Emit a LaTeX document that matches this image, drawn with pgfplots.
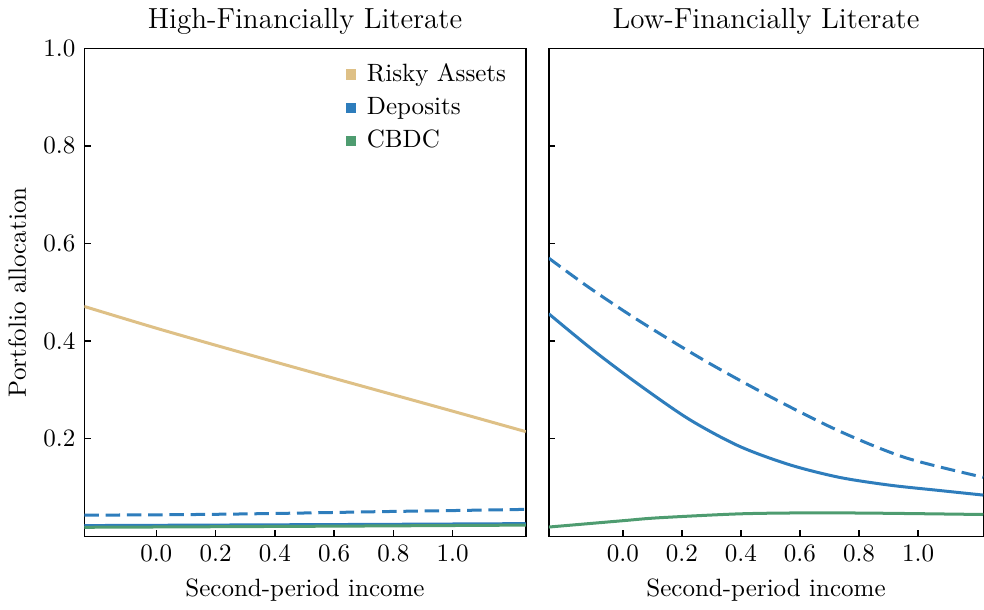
\documentclass[border=0pt]{standalone}
\usepackage{pgfplots}
\pgfplotsset{compat=1.18}

\definecolor{risky}{RGB}{222,192,134}
\definecolor{dep}{RGB}{46,125,188}
\definecolor{cbdc}{RGB}{78,156,112}

\pgfplotsset{
  panel/.style={
    scale only axis,
    height=195pt,
    ymin=0, ymax=1,
    ytick={0.2,0.4,0.6,0.8,1.0},
    xtick={0,0.2,0.4,0.6,0.8,1.0},
    tick align=inside,
    xtick pos=bottom, ytick pos=left,
    major tick length=2.6pt,
    every tick/.style={black, line width=0.6pt},
    axis line style={line width=0.6pt},
    xticklabel style={/pgf/number format/.cd, fixed, fixed zerofill, precision=1},
    yticklabel style={/pgf/number format/.cd, fixed, fixed zerofill, precision=1},
    xlabel={Second-period income},
    title style={yshift=-4pt, font=\fontsize{11.6}{14}\selectfont},
  },
  line/.style={line width=1.2pt, no markers, smooth},
  dsh/.style={line width=1.2pt, no markers, smooth, dash pattern=on 5.8pt off 2.7pt},
}

\begin{document}
\begin{tikzpicture}

% left panel
\begin{axis}[panel, name=left,
  width=176.4pt,
  xmin=-0.243, xmax=1.247,
  ylabel={Portfolio allocation},
  title={High-Financially Literate},
  legend style={at={(0.985,0.99)}, anchor=north east, draw=none, fill=none,
    row sep=0.8pt, font=\normalsize},
  legend image code/.code={\fill[#1] (0pt,-1.9pt) rectangle (3.8pt,1.9pt); \path (6pt,0pt);},
  legend cell align=left,
]
\addplot[line, risky, forget plot] coordinates {
  (-0.243,0.471) (0,0.4265) (0.25,0.383) (0.5,0.3405) (0.75,0.2985) (1.0,0.2565) (1.247,0.2145)
};
\addplot[dsh, dep, forget plot] coordinates {
  (-0.243,0.0435) (0,0.0440) (0.25,0.0455) (0.5,0.0478) (0.75,0.0505) (1.0,0.0528) (1.247,0.0552)
};
\addplot[line, dep, forget plot] coordinates {
  (-0.243,0.0220) (0.25,0.0232) (0.75,0.0245) (1.247,0.0260)
};
\addplot[line, cbdc, forget plot] coordinates {
  (-0.243,0.0185) (0.25,0.0198) (0.75,0.0213) (1.247,0.0230)
};
\addlegendimage{risky}
\addlegendentry{Risky Assets}
\addlegendimage{dep}
\addlegendentry{Deposits}
\addlegendimage{cbdc}
\addlegendentry{CBDC}
\end{axis}

% right panel
\begin{axis}[panel,
  at={(left.south east)}, anchor=south west, xshift=9.2pt,
  width=173.6pt,
  xmin=-0.251, xmax=1.221,
  yticklabels={},
  title={Low-Financially Literate},
]
\addplot[dsh, dep] coordinates {
  (-0.251,0.570) (-0.115,0.510) (0.054,0.442) (0.280,0.359) (0.506,0.284)
  (0.732,0.216) (0.958,0.161) (1.221,0.121)
};
\addplot[line, dep] coordinates {
  (-0.251,0.456) (-0.1,0.381) (0.054,0.311) (0.224,0.240) (0.393,0.185)
  (0.563,0.147) (0.732,0.121) (0.902,0.105) (1.071,0.094) (1.221,0.0845)
};
\addplot[line, cbdc] coordinates {
  (-0.251,0.019) (0,0.032) (0.122,0.038) (0.393,0.046) (0.619,0.048)
  (0.845,0.0475) (1.221,0.0447)
};
\end{axis}
\end{tikzpicture}
\end{document}
